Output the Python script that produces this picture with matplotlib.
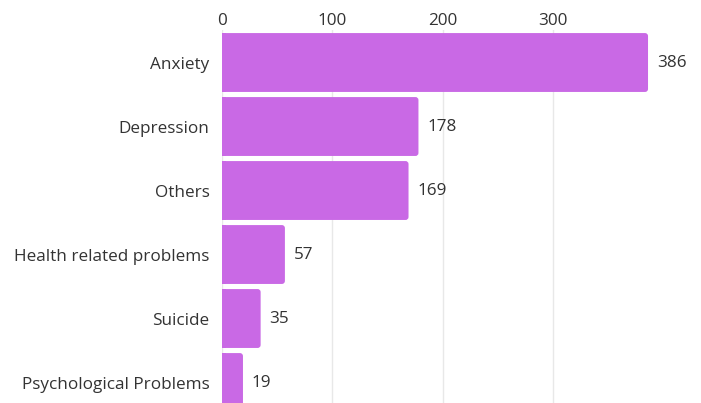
import matplotlib

matplotlib.use("Agg")
import matplotlib.pyplot as plt
from matplotlib.patches import FancyBboxPatch

categories = ["Anxiety", "Depression", "Others", "Health related problems", "Suicide", "Psychological Problems"]
counts = [386, 178, 169, 57, 35, 19]
x_ticks = [0, 100, 200, 300]

BAR_COLOR = "#C969E5"
TEXT_COLOR = "#333333"
W, H = 701, 403
FS = 12.3

plt.rcParams["font.family"] = ["Open Sans", "DejaVu Sans"]

fig = plt.figure(figsize=(W / 100, H / 100), dpi=100)
ax = fig.add_axes([222 / W, 0, 1 - 222 / W, (H - 30) / H])

positions = list(range(len(categories)))
bars = ax.barh(positions, counts, height=0.92, color=BAR_COLOR)

# swap plain bars for ones with softly rounded corners
x_per_px = 434 / (W - 222)
y_per_px = 1 / 64
for bar in bars:
    x, y, w, h = bar.get_x(), bar.get_y(), bar.get_width(), bar.get_height()
    bar.set_visible(False)
    ax.add_patch(FancyBboxPatch((x, y), w, h,
                                boxstyle=f"round,pad=0,rounding_size={3 * x_per_px}",
                                mutation_aspect=y_per_px / x_per_px,
                                facecolor=BAR_COLOR, edgecolor="none", zorder=2))
    # square off the left end, which sits on the zero line
    ax.add_patch(plt.Rectangle((x, y), 4 * x_per_px, h, facecolor=BAR_COLOR,
                               edgecolor="none", zorder=2))

for pos, val in zip(positions, counts):
    ax.text(val + 9 * x_per_px, pos, str(val), va="center", ha="left",
            fontsize=FS, color=TEXT_COLOR)

ax.set_xlim(0, 434)
ax.set_ylim(5.32, -0.508)
ax.set_xticks(x_ticks)
ax.set_yticks(positions)
ax.set_yticklabels(categories)
ax.xaxis.tick_top()
ax.tick_params(axis="x", length=0, pad=1, labelsize=FS, labelcolor=TEXT_COLOR)
ax.tick_params(axis="y", length=0, pad=9, labelsize=FS, labelcolor=TEXT_COLOR)
ax.grid(axis="x", color="#e8e8e8", linewidth=1)
ax.set_axisbelow(True)
for spine in ax.spines.values():
    spine.set_visible(False)

fig.savefig("out.png", dpi=100)
